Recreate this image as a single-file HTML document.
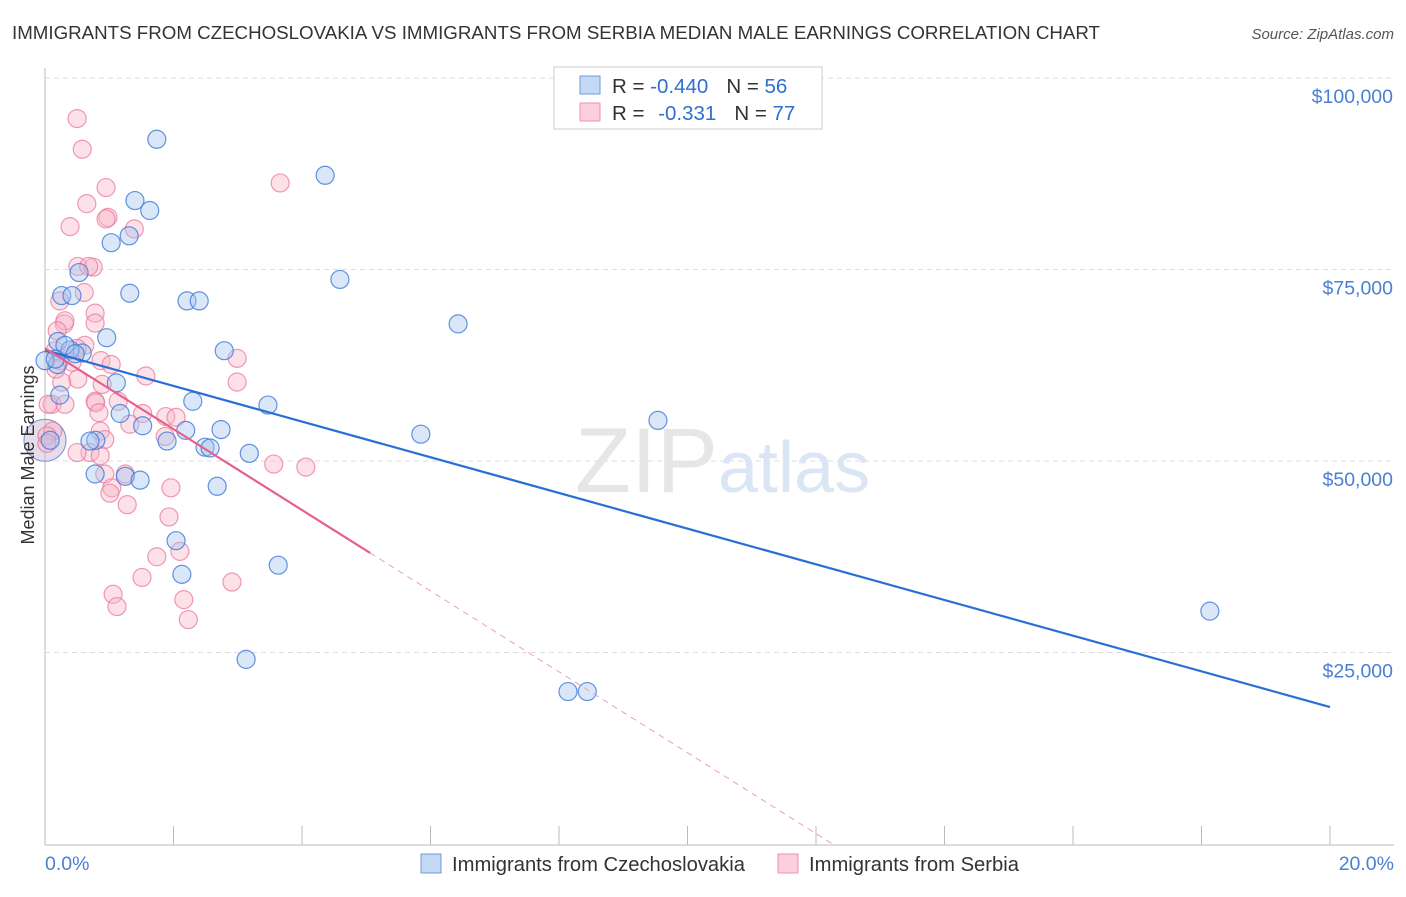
<!DOCTYPE html>
<html><head><meta charset="utf-8"><style>
body{margin:0;background:#fff;font-family:"Liberation Sans",sans-serif}
svg text{font-family:"Liberation Sans",sans-serif}
</style></head><body>
<svg width="1406" height="892" viewBox="0 0 1406 892">
<text x="12" y="39" font-size="18" fill="#333" textLength="1088" lengthAdjust="spacingAndGlyphs">IMMIGRANTS FROM CZECHOSLOVAKIA VS IMMIGRANTS FROM SERBIA MEDIAN MALE EARNINGS CORRELATION CHART</text>
<text x="1394" y="39" font-size="15" fill="#555" font-style="italic" text-anchor="end">Source: ZipAtlas.com</text>
<g id="grid"></g>
<text x="718" y="492" font-size="92" fill="#e6e6e6" text-anchor="end" font-family="Liberation Serif">ZIP</text>
<text x="718" y="492" font-size="72" fill="#dbe6f5">atlas</text>
<g id="pts"></g>
<g id="lines"></g>
<text transform="translate(34,455) rotate(-90)" font-size="18" fill="#333" text-anchor="middle">Median Male Earnings</text>
<text x="45" y="870" font-size="19.5" fill="#4a7fd4">0.0%</text>
<text x="1394" y="870" font-size="19.5" fill="#4a7fd4" text-anchor="end">20.0%</text>
<g>
<rect x="554" y="67" width="268" height="62" fill="#fff" stroke="#ccc"/>
<rect x="580" y="76" width="20" height="18" fill="#c5d9f5" stroke="#6b9be0"/>
<rect x="580" y="103" width="20" height="18" fill="#fbd0dc" stroke="#f090aa"/>
<text x="612" y="93" font-size="20.5" fill="#333">R = <tspan fill="#2f6fd0">-0.440</tspan><tspan dx="18">N = </tspan><tspan fill="#2f6fd0">56</tspan></text>
<text x="612" y="120" font-size="20.5" fill="#333">R = <tspan dx="8" fill="#2f6fd0">-0.331</tspan><tspan dx="18">N = </tspan><tspan fill="#2f6fd0">77</tspan></text>
</g>
<g>
<rect x="421" y="854" width="20" height="19" fill="#c5d9f5" stroke="#6b9be0"/>
<text x="452" y="871" font-size="20" fill="#333" textLength="293" lengthAdjust="spacingAndGlyphs">Immigrants from Czechoslovakia</text>
<rect x="778" y="854" width="20" height="19" fill="#fbd0dc" stroke="#f090aa"/>
<text x="809" y="871" font-size="20" fill="#333" textLength="210" lengthAdjust="spacingAndGlyphs">Immigrants from Serbia</text>
</g>
</svg>
<script>
const yTicks=[25000,50000,75000,100000];
const yTickLabels=["$25,000","$50,000","$75,000","$100,000"];
const xTicks=[0,2,4,6,8,10,12,14,16,18,20];
const blueX=[1.74,4.36,1.4,1.63,1.31,1.03,4.59,0.53,1.32,0.26,0.42,2.21,2.4,6.43,0.96,0.2,2.79,0.58,1.11,2.3,3.47,1.17,1.52,2.74,2.19,5.85,9.54,1.9,0.79,0.7,2.49,2.57,3.18,0.78,1.25,1.48,2.68,2.04,2.13,3.63,18.13,3.13,8.14,8.44,0.08,0.39,0.19,0.31,0.0,0.16,0.47,0.23];
const blueY=[92000,87300,84000,82700,79400,78500,73700,74600,71900,71600,71600,70900,70900,67900,66100,65600,64400,64100,60200,57800,57300,56200,54600,54100,54000,53500,55300,52600,52700,52600,51800,51700,51000,48300,48000,47500,46700,39600,35200,36400,30400,24100,19900,19900,52700,64500,62600,65100,63100,63300,64000,58600];
const pinkX=[0.5,0.58,0.95,0.65,0.98,0.95,0.39,1.39,3.66,0.51,0.75,0.68,0.61,0.23,0.78,0.78,0.3,0.31,0.19,0.62,0.5,0.23,0.87,0.42,1.03,0.16,2.99,1.57,0.89,0.51,0.26,2.99,0.78,1.14,0.11,0.31,1.52,0.79,0.84,1.32,0.86,0.12,1.88,2.04,0.93,1.87,0.7,0.86,0.5,3.56,4.06,1.25,0.93,1.04,1.01,1.96,1.28,1.93,2.1,1.74,1.51,1.06,1.12,2.16,2.23,2.91,0.03,0.05,0.03,0.17];
const pinkY=[94700,90700,85700,83600,81800,81600,80600,80300,86300,75400,75300,75400,72000,70900,69300,68000,67900,68300,67000,65100,64700,63100,63100,62900,62600,64400,63400,61100,60000,60700,60300,60300,57800,57800,57400,57400,56200,57600,56300,54800,53900,53900,55800,55700,52800,53200,51100,50700,51100,49600,49200,48300,48300,46500,45800,46500,44300,42700,38200,37500,34800,32600,31000,31900,29300,34200,53300,57400,52300,62000];
const blueLine=[64460,17880];
const pinkLine=[64720,38000];
const pinkSolidEnd=5.06;
const X=v=>45+v*64.25, Y=v=>844-v/25000*191.5;
const NS='http://www.w3.org/2000/svg';
function mk(tag,attrs,parent){const e=document.createElementNS(NS,tag);for(const k in attrs)e.setAttribute(k,attrs[k]);document.getElementById(parent).appendChild(e);return e;}
mk('line',{x1:45,y1:68,x2:45,y2:845,stroke:'#bbb'},'grid');
mk('line',{x1:45,y1:845,x2:1394,y2:845,stroke:'#bbb'},'grid');
yTicks.forEach((t,i)=>{
 const l=mk('line',{x1:45,y1:Y(t),x2:1394,y2:Y(t),stroke:'#ddd','stroke-dasharray':'5,4'},'grid');
 
 
 const tx=mk('text',{x:1393,y:Y(t)+25,'font-size':19.5,fill:'#4a7fd4','text-anchor':'end'},'grid');
 tx.textContent=yTickLabels[i];
 
 
});
xTicks.forEach(t=>{
 const l=mk('line',{x1:X(t),y1:845,x2:X(t),y2:826,stroke:'#bbb'},'grid');
 
 
});
const big=mk('circle',{cx:45,cy:Y(52700),r:21,fill:'rgba(200,180,210,0.45)',stroke:'#8a9ad8','stroke-width':1.2},'pts');


pinkX.forEach((x,i)=>{
 const c=mk('circle',{cx:X(x),cy:Y(pinkY[i]),r:9,fill:'rgba(248,180,200,0.4)',stroke:'rgba(235,120,155,0.75)','stroke-width':1.2},'pts');
 
 
});
blueX.forEach((x,i)=>{
 const c=mk('circle',{cx:X(x),cy:Y(blueY[i]),r:9,fill:'rgba(160,195,240,0.4)',stroke:'rgba(60,120,215,0.8)','stroke-width':1.2},'pts');
 
 
});
const bl=mk('line',{x1:X(0),y1:Y(blueLine[0]),x2:X(20),y2:Y(blueLine[1]),stroke:'#2a6fd6','stroke-width':2.2},'lines');


const slope=(pinkLine[1]-pinkLine[0])/pinkSolidEnd;
const zeroX=-pinkLine[0]/slope;
const pl=mk('line',{x1:X(0),y1:Y(pinkLine[0]),x2:X(pinkSolidEnd),y2:Y(pinkLine[1]),stroke:'#e8608a','stroke-width':2.2},'lines');


const pd=mk('line',{x1:X(pinkSolidEnd),y1:Y(pinkLine[1]),x2:X(zeroX),y2:Y(0),stroke:'#eaa0b8','stroke-width':1,'stroke-dasharray':'6,5'},'lines');


</script>
</body></html>
